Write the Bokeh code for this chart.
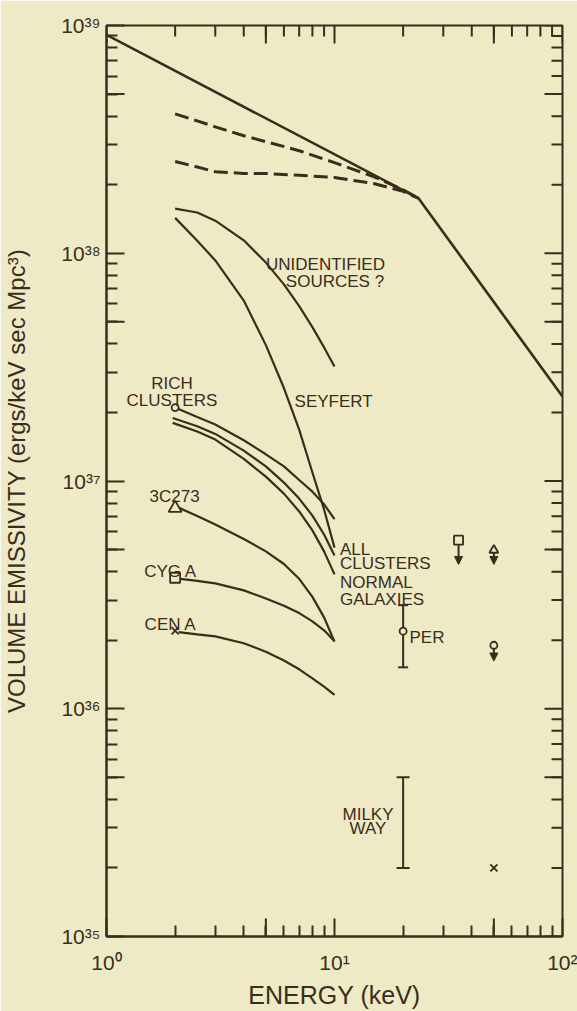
import math

from bokeh.core.properties import value
from bokeh.embed import file_html
from bokeh.models import (Arrow, ColumnDataSource, FixedTicker, NormalHead, Range1d)
from bokeh.plotting import figure
from bokeh.resources import INLINE

INK = "#3a2d1e"
PAPER = "#eeeac5"
FONT = "Liberation Sans"

# ---- spectra: energy in keV, volume emissivity in ergs/keV sec Mpc^3 ----
total_energy = [1.0, 23.4, 100.0]
total_emissivity = [9.1e38, 1.74e38, 2.35e37]

dashed_energy = [2, 2.5, 3, 4, 5, 7, 10, 15, 20, 23.4]
dashed_high = [4.09e38, 3.81e38, 3.59e38, 3.28e38, 3.09e38, 2.82e38, 2.50e38, 2.16e38, 1.90e38, 1.74e38]
dashed_low = [2.53e38, 2.39e38, 2.28e38, 2.24e38, 2.24e38, 2.20e38, 2.15e38, 2.02e38, 1.87e38, 1.74e38]

unidentified_energy = [2, 2.5, 3, 4, 5, 6, 7, 8, 9, 10]
unidentified_emissivity = [1.57e38, 1.51e38, 1.39e38, 1.14e38, 9.1e37, 7.3e37, 5.86e37, 4.74e37, 3.86e37, 3.18e37]

seyfert_energy = [2, 2.5, 3, 4, 5, 6, 7, 8, 9, 10]
seyfert_emissivity = [1.43e38, 1.135e38, 9.3e37, 6.2e37, 3.95e37, 2.56e37, 1.68e37, 1.09e37, 7.5e36, 5.1e36]

cluster_energy = [1.95, 2.5, 3, 4, 5, 6, 7, 8, 9, 10]
all_clusters_emissivity = [1.89e37, 1.74e37, 1.61e37, 1.36e37, 1.16e37, 9.84e36, 8.37e36, 7.05e36, 5.82e36, 4.71e36]
normal_galaxies_emissivity = [1.80e37, 1.65e37, 1.52e37, 1.25e37, 1.045e37, 8.8e36, 7.35e36, 6.07e36, 4.91e36, 3.89e36]

source_energy = [2.07, 2.5, 3, 4, 5, 6, 7, 8, 9, 10]
rich_clusters_emissivity = [2.07e37, 1.91e37, 1.77e37, 1.51e37, 1.31e37, 1.16e37, 1.01e37, 8.98e36, 7.9e36, 6.8e36]
c3c273_emissivity = [7.64e36, 7.02e36, 6.44e36, 5.56e36, 4.91e36, 4.32e36, 3.72e36, 3.10e36, 2.52e36, 1.97e36]
cyg_a_emissivity = [3.73e36, 3.64e36, 3.55e36, 3.31e36, 3.05e36, 2.83e36, 2.63e36, 2.42e36, 2.21e36, 1.98e36]
cen_a_emissivity = [2.17e36, 2.12e36, 2.08e36, 1.94e36, 1.78e36, 1.63e36, 1.49e36, 1.36e36, 1.25e36, 1.15e36]

# ---- individual measurements ----
point_energy = 2.0
rich_clusters_point = 2.1e37
c3c273_point = 7.6e36
cyg_a_point = 3.76e36
cen_a_point = 2.2e36

per_energy = 20.0
per_value = 2.19e36
per_low = 1.52e36
per_high = 2.85e36

milky_way_energy = 20.0
milky_way_low = 2.0e35
milky_way_high = 5.0e35

limit_energy = [35.0, 50.0, 50.0]
limit_value = [5.5e36, 4.97e36, 1.9e36]
limit_tip = [4.3e36, 4.3e36, 1.62e36]
limit_marker = ["square", "triangle", "circle"]
limit_size = [9, 9, 7]

hard_point_energy = [50.0]
hard_point_value = [2.0e35]

# ---- axes ----
x_label_values = [1, 10, 100]
x_tick_labels = ["10\u2070", "10\u00b9", "10\u00b2"]
y_label_values = [1e35, 1e36, 1e37, 1e38, 1e39]
y_tick_labels = ["10\u00b3\u2075", "10\u00b3\u2076", "10\u00b3\u2077", "10\u00b3\u2078", "10\u00b3\u2079"]

x_minor = [m * 10 ** k for k in (0, 1) for m in (2, 3, 4, 5, 6, 7, 8, 9)]
y_minor = [m * 10.0 ** k for k in range(35, 39) for m in (2, 3, 4, 5, 6, 7, 8, 9)]
x_half = [5, 50]
y_half = [5e35, 5e36, 5e37, 5e38]

LONG, SHORT = 18, 11

p = figure(width=577, height=1011, x_axis_type="log", y_axis_type="log",
           x_range=Range1d(1, 100), y_range=Range1d(1e35, 1e39),
           output_backend="svg", toolbar_location=None,
           min_border_left=106, min_border_right=15, min_border_top=25, min_border_bottom=73,
           background_fill_color=PAPER, border_fill_color=PAPER,
           outline_line_color=INK, outline_line_width=2)
p.grid.visible = False

xaxis = p.below[0]
yaxis = p.left[0]
for ax, labels, minor in [(xaxis, dict(zip(x_label_values, x_tick_labels)), x_minor),
                          (yaxis, dict(zip(y_label_values, y_tick_labels)), y_minor)]:
    ax.ticker = FixedTicker(ticks=list(labels.keys()), minor_ticks=minor)
    ax.major_label_overrides = labels
    ax.axis_line_color = INK
    ax.axis_line_width = 2
    ax.major_tick_line_color = INK
    ax.minor_tick_line_color = INK
    ax.major_tick_line_width = 2
    ax.minor_tick_line_width = 2
    ax.major_tick_in = LONG
    ax.major_tick_out = 0
    ax.minor_tick_in = SHORT
    ax.minor_tick_out = 0
    ax.major_label_text_color = INK
    ax.major_label_text_font = FONT
    ax.major_label_text_font_size = "21px"
    ax.axis_label_text_color = INK
    ax.axis_label_text_font = FONT
    ax.axis_label_text_font_style = "normal"

xaxis.major_label_standoff = 14
xaxis.axis_label = "ENERGY (keV)"
xaxis.axis_label_standoff = 4
xaxis.axis_label_text_font_size = "25px"
yaxis.major_label_standoff = 6
yaxis.axis_label = "VOLUME EMISSIVITY (ergs/keV sec Mpc\u00b3)"
yaxis.axis_label_standoff = 28
yaxis.axis_label_text_font_size = "24px"

# longer ticks at the half decades, and the unlabelled ticks along the top and right edges
tick_style = dict(line_color=INK, line_width=2, length_units="screen")
p.ray(x_half, [1e35] * len(x_half), length=LONG, angle=math.pi / 2, **tick_style)
p.ray([1] * len(y_half), y_half, length=LONG, angle=0, **tick_style)
x_top_long = x_label_values + x_half
y_right_long = y_label_values + y_half
p.ray(x_top_long, [1e39] * len(x_top_long), length=LONG, angle=-math.pi / 2, **tick_style)
p.ray(x_minor, [1e39] * len(x_minor), length=SHORT, angle=-math.pi / 2, **tick_style)
p.ray([100] * len(y_right_long), y_right_long, length=LONG, angle=math.pi, **tick_style)
p.ray([100] * len(y_minor), y_minor, length=SHORT, angle=math.pi, **tick_style)

# total background spectrum and the two alternative decompositions
p.line(total_energy, total_emissivity, line_color=INK, line_width=2.6)
for series in (dashed_high, dashed_low):
    p.line(dashed_energy, series, line_color=INK, line_width=3, line_dash="14 6")

# contributions of source classes
p.line(unidentified_energy, unidentified_emissivity, line_color=INK, line_width=2.2)
p.line(seyfert_energy, seyfert_emissivity, line_color=INK, line_width=2.2)
for series in (all_clusters_emissivity, normal_galaxies_emissivity):
    p.line(cluster_energy, series, line_color=INK, line_width=2.2)
for series in (rich_clusters_emissivity, c3c273_emissivity, cyg_a_emissivity, cen_a_emissivity):
    p.line(source_energy, series, line_color=INK, line_width=2.2)

# error bars
p.segment([per_energy], [per_low], [per_energy], [per_high], line_color=INK, line_width=2)
p.scatter([per_energy, per_energy], [per_low, per_high], marker="dash", size=10,
          line_color=INK, line_width=2)
p.segment([milky_way_energy], [milky_way_low], [milky_way_energy], [milky_way_high],
          line_color=INK, line_width=2)
p.scatter([milky_way_energy, milky_way_energy], [milky_way_low, milky_way_high], marker="dash",
          size=13, line_color=INK, line_width=2)

# upper limits
limits = ColumnDataSource(dict(x=limit_energy, y=limit_value, tip=limit_tip,
                               marker=limit_marker, size=limit_size))
arrows = Arrow(x_start="x", y_start="y", x_end="x", y_end="tip", source=limits,
               line_color=INK, line_width=2, level="underlay",
               end=NormalHead(size=8, fill_color=INK, line_color=INK))
p.add_layout(arrows)
p.scatter("x", "y", marker="marker", size="size", source=limits,
          fill_color=PAPER, line_color=INK, line_width=1.8)

# points at 2 keV and the hard x-ray point
p.scatter([point_energy], [rich_clusters_point], marker="circle", size=7,
          fill_color=PAPER, line_color=INK, line_width=1.8)
p.scatter([point_energy], [c3c273_point], marker="triangle", size=13,
          fill_color=PAPER, line_color=INK, line_width=1.8)
p.scatter([point_energy], [cyg_a_point], marker="square", size=10,
          fill_color=PAPER, line_color=INK, line_width=1.8)
p.scatter([point_energy], [cen_a_point], marker="x", size=10, line_color=INK, line_width=1.8)
p.scatter([per_energy], [per_value], marker="circle", size=7,
          fill_color=PAPER, line_color=INK, line_width=1.8)
p.scatter(hard_point_energy, hard_point_value, marker="x", size=10, line_color=INK, line_width=1.8)

# curve labels
centered = ColumnDataSource(dict(
    x=[1.936, 1.936, 9.13, 10.05, 1.99, 1.91, 1.91, 14.03, 14.03],
    y=[2.67e37, 2.26e37, 8.97e37, 7.55e37, 8.54e36, 4.01e36, 2.35e36, 3.45e35, 2.97e35],
    text=["RICH", "CLUSTERS", "UNIDENTIFIED", "SOURCES ?", "3C273", "CYG A", "CEN A", "MILKY", "WAY"]))
left = ColumnDataSource(dict(
    x=[6.68, 10.57, 10.57, 10.57, 10.57, 21.33],
    y=[2.24e37, 5.0e36, 4.35e36, 3.57e36, 3.02e36, 2.05e36],
    text=["SEYFERT", "ALL", "CLUSTERS", "NORMAL", "GALAXIES", "PER"]))
for src, align in ((centered, "center"), (left, "left")):
    p.text("x", "y", text="text", source=src, text_align=align, text_baseline="alphabetic",
           text_font=value(FONT), text_font_size="17px", text_color=INK)

open("out.html", "w").write(file_html(p, INLINE))
